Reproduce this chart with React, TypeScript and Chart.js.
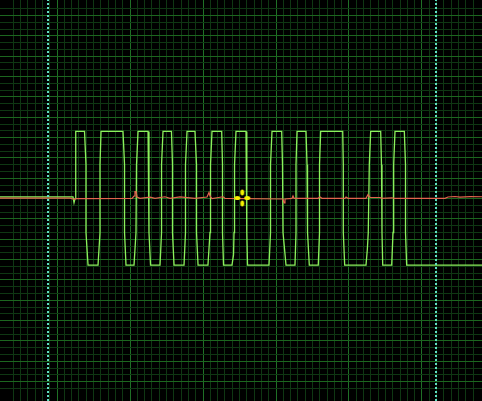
import React, { useEffect, useRef } from "react";
import { Chart, registerables } from "chart.js";

Chart.register(...registerables);

// Time axis in minor divisions, level axis in minor divisions
const X_MIN = -7.81;
const X_MAX = 58.22;
const Y_MIN = -29.85;
const Y_MAX = 29.29;

// Green trace (channel 1)
const greenT = [
  -7.81, 2.19, 2.33, 2.47, 2.53, 2.6,
  3.77, 3.97, 3.97, 4.25,
  5.62, 5.89, 5.89, 6.03,
  9.04, 9.25, 9.25, 9.45,
  10.55, 10.82, 10.89, 11.1,
  12.47, 12.6, 12.6, 12.81,
  14.11, 14.32, 14.32, 14.52,
  15.68, 15.82, 15.82, 16.03,
  17.4, 17.6, 17.6, 17.81,
  18.9, 19.11, 19.11, 19.32,
  20.68, 20.96, 21.03, 21.23,
  22.56, 22.67, 22.67, 22.81,
  23.97, 24.18, 24.25, 24.32, 24.52,
  25.89, 26.0, 26.0, 26.1,
  29.04, 29.25, 29.25, 29.45,
  30.78, 30.89, 30.96, 31.37,
  32.6, 32.74, 32.74, 32.88,
  34.11, 34.25, 34.32, 34.56,
  35.79, 35.96, 35.96, 36.12,
  39.14, 39.22, 39.22, 39.41,
  42.33, 42.51, 42.64, 42.78, 42.97,
  44.34, 44.45, 44.52, 44.62,
  45.85, 46.03, 46.12, 46.3,
  47.58, 47.74, 47.74, 47.9,
  58.22,
];
const greenV = [
  0.25, 0.25, -0.6, 0.0, 5, 9.9,
  9.9, 5, -5, -9.8,
  -9.8, -5, 5, 9.9,
  9.9, 5, -5, -9.8,
  -9.8, -5, 5, 9.9,
  9.9, 5, -5, -9.8,
  -9.8, -5, 5, 9.9,
  9.9, 5, -5, -9.8,
  -9.8, -5, 5, 9.9,
  9.9, 5, -5, -9.8,
  -9.8, -5, 5, 9.9,
  9.9, 5, -5, -9.8,
  -9.8, -8.3, -5, 5, 9.9,
  9.9, 5, -5, -9.8,
  -9.8, -5, 5, 9.9,
  9.9, 5, -5, -9.8,
  -9.8, -5, 5, 9.9,
  9.9, 5, -5, -9.8,
  -9.8, -5, 5, 9.9,
  9.9, 5, -5, -9.8,
  -9.8, -7.5, -5, 5, 9.9,
  9.9, 5, -5, -9.8,
  -9.8, -5, 5, 9.9,
  9.9, 5, -5, -9.8,
  -9.8,
];

// Red trace (channel 2)
const redT = [
  -7.81, 1.78, 2.19, 2.33, 2.6, 10.27, 10.55, 10.68, 10.82, 10.96, 11.37,
  12.74, 13.42, 14.79, 15.48, 16.85, 18.9, 20.55, 20.82, 20.96, 21.23,
  22.74, 23.01, 30.96, 31.1, 31.23, 32.19, 32.33, 32.47, 35.75, 36.03,
  36.3, 39.45, 39.59, 39.86, 42.33, 42.6, 42.88, 44.25, 44.52, 45.89,
  46.16, 53.15, 53.56, 54.52, 55.21, 56.58, 58.22,
];
const redV = [
  0.06, 0.06, -0.06, -0.13, 0.01, 0.04, 0.38, 1.05, 1.05, 0.24, 0.04,
  0.21, 0.04, 0.27, 0.04, 0.24, 0.04, 0.24, 0.9, 0.38, 0.01,
  0.27, 0.04, -0.06, -0.65, -0.06, 0.04, 0.38, 0.04, 0.04, 0.24,
  0.04, 0.04, 0.24, 0.04, 0.04, 0.6, 0.19, 0.16, 0.04, 0.12,
  0.04, 0.04, 0.24, 0.31, 0.21, 0.29, 0.27,
];

// Cursors
const cursorTimes = [-1.23, 51.92];
const markerT = [25.38];
const markerV = [0.09];

function makeMarker(): HTMLCanvasElement {
  const c = document.createElement("canvas");
  c.width = 20;
  c.height = 20;
  const g = c.getContext("2d")!;
  g.fillStyle = "#f6f200";
  const blob = (x: number, y: number, rx: number, ry: number) => {
    g.beginPath();
    g.ellipse(x, y, rx, ry, 0, 0, Math.PI * 2);
    g.fill();
  };
  blob(5, 10, 3, 2);
  blob(15, 10, 3, 2);
  blob(10, 4.6, 1.9, 3);
  blob(10, 15.6, 1.9, 3);
  return c;
}

const isInt = (v: number) => Math.abs(v - Math.round(v)) < 1e-6;

export default function App() {
  const ref = useRef<HTMLCanvasElement | null>(null);

  useEffect(() => {
    const prevMargin = document.body.style.margin;
    document.body.style.margin = "0";
    document.body.style.background = "#000";
    const green = greenT.map((t, i) => ({ x: t, y: greenV[i] }));
    const red = redT.map((t, i) => ({ x: t, y: redV[i] }));
    const marker = markerT.map((t, i) => ({ x: t, y: markerV[i] }));
    const cursors = cursorTimes.map((t) => [
      { x: t, y: Y_MIN },
      { x: t, y: Y_MAX },
    ]);

    const chart = new Chart(ref.current!, {
      type: "line",
      data: {
        datasets: [
          {
            data: marker,
            pointStyle: makeMarker() as any,
            pointRadius: 10,
            showLine: false,
            clip: false,
          },
          ...cursors.map((d) => ({
            data: d,
            borderColor: "#5fe0c4",
            borderWidth: 2,
            borderDash: [2, 2],
            pointRadius: 0,
          })),
          {
            data: red,
            borderColor: "#e2644e",
            borderWidth: 1.2,
            pointRadius: 0,
          },
          {
            data: green,
            borderColor: "#8cf05c",
            borderWidth: 1.3,
            pointRadius: 0,
          },
        ] as any,
      },
      options: {
        responsive: false,
        animation: false,
        events: [],
        layout: { padding: 0, autoPadding: false },
        elements: { line: { tension: 0 } },
        plugins: {
          legend: { display: false },
          tooltip: { enabled: false },
        },
        scales: {
          x: {
            type: "linear",
            min: X_MIN,
            max: X_MAX,
            border: { display: false },
            ticks: { display: false, stepSize: 1 },
            grid: {
              drawTicks: false,
              lineWidth: 1,
              color: (ctx: any) => {
                const v = ctx.tick.value;
                if (!isInt(v)) return "rgba(0,0,0,0)";
                return Math.round(v) % 10 === 0 ? "#1f7026" : "#0f3713";
              },
            },
          },
          y: {
            type: "linear",
            min: Y_MIN,
            max: Y_MAX,
            border: { display: false },
            ticks: { display: false, stepSize: 1 },
            grid: {
              drawTicks: false,
              lineWidth: 1,
              color: (ctx: any) => {
                const v = ctx.tick.value;
                if (!isInt(v)) return "rgba(0,0,0,0)";
                return Math.round(v) % 3 === 0 ? "#1c661f" : "#0f3713";
              },
            },
          },
        },
      },
      plugins: [
        {
          id: "bg",
          beforeDraw: (c: any) => {
            const g = c.ctx;
            g.save();
            g.fillStyle = "#000000";
            g.fillRect(0, 0, c.width, c.height);
            g.restore();
          },
        },
      ],
    });
    return () => {
      chart.destroy();
      document.body.style.margin = prevMargin;
    };
  }, []);

  return (
    <div style={{ position: "absolute", left: 0, top: 0, width: 482, height: 401 }}>
      <canvas ref={ref} width={482} height={401} style={{ display: "block" }} />
    </div>
  );
}
